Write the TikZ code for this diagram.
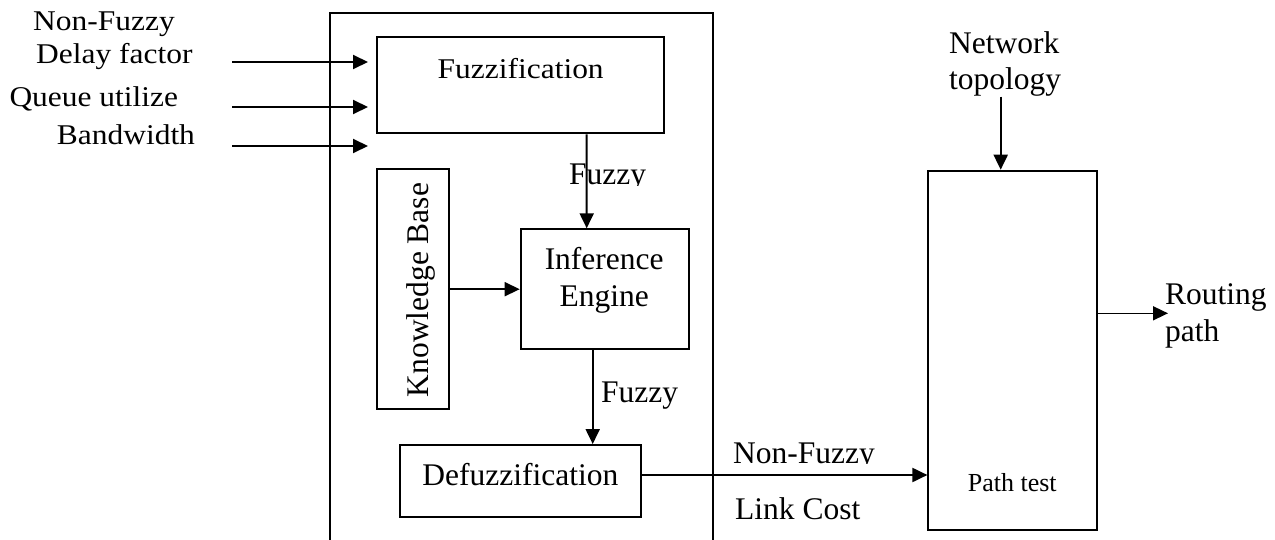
\documentclass[tikz,border=0pt]{standalone}
\usepackage{fontspec}
\setmainfont{Liberation Serif}
\newfontfamily\widefont{Liberation Serif}[FakeStretch=1.1]
\usetikzlibrary{arrows.meta}
\tikzset{
  box/.style={draw, line width=2pt, inner sep=0pt},
  arr/.style={line width=2pt, -{Triangle[length=15pt,width=14pt]}},
  thinarr/.style={line width=1.6pt, -{Triangle[length=15pt,width=14pt]}},
  lbl/.style={inner sep=0pt, anchor=base west, font=\fontsize{31.5}{36}\selectfont},
  clbl/.style={inner sep=0pt, anchor=base, font=\fontsize{31.5}{36}\selectfont},
  wlbl/.style={inner sep=0pt, anchor=base west, font=\widefont\fontsize{28.6}{32}\selectfont}
}
\begin{document}
\begin{tikzpicture}[x=1pt,y=-1pt]
\useasboundingbox (0,0) rectangle (1275,540);
\begin{scope}
\clip (0,0) rectangle (1275,540);
% outer box (bottom edge outside the picture)
\draw[line width=2pt] (329.5,560) -- (329.5,13.3) -- (712.5,13.3) -- (712.5,560);
\end{scope}

% boxes
\node[box, minimum width=287.6pt, minimum height=96pt] (fuzz) at (520.5,85.3) {};
\node[box, minimum width=72pt, minimum height=239.7pt] (kb) at (412.7,289.2) {};
\node[box, minimum width=168.3pt, minimum height=120pt] (inf) at (604.85,289.3) {};
\node[box, minimum width=241pt, minimum height=72.3pt] (defuzz) at (520.5,481.2) {};
\node[box, line width=1.8pt, minimum width=168.4pt, minimum height=359.3pt] (path) at (1012.5,350.3) {};

% box texts
\node[wlbl] (tfuzz) at (437.5,78.3) {Fuzzification};
\node[clbl, rotate=90] (tkb) at (428.3,290) {Knowledge Base};
\node[clbl] (tinf1) at (604.2,269.3) {Inference};
\node[clbl] (tinf2) at (604.2,306.7) {Engine};
\node[clbl] (tdef) at (520.3,485) {Defuzzification};
\node[inner sep=0pt, anchor=base, font=\fontsize{26}{30}\selectfont] (tpath) at (1012.2,491) {Path test};

% input labels
\node[wlbl] (l1) at (33,30.7) {Non-Fuzzy};
\node[wlbl] (l2) at (36,64) {Delay factor};
\node[wlbl] (l3) at (9.3,107) {Queue utilize};
\node[wlbl] (l4) at (56.7,145) {Bandwidth};

% input arrows
\coordinate (i1s) at (232,62);   \coordinate (i1e) at (368,62);
\coordinate (i2s) at (232,107);  \coordinate (i2e) at (368,107);
\coordinate (i3s) at (232,146);  \coordinate (i3e) at (368,146);
\draw[arr] (i1s) -- (i1e);
\draw[arr] (i2s) -- (i2e);
\draw[arr] (i3s) -- (i3e);

% internal arrows
\draw[arr] ([xshift=66.2pt]fuzz.south) -- ([xshift=-18.15pt]inf.north);
\draw[thinarr] (kb.east) -- (kb.east -| inf.west);
\draw[arr] ([xshift=-12.15pt]inf.south) -- ([xshift=-12.15pt]inf.south |- defuzz.north);
\draw[arr] ([yshift=6.2pt]defuzz.east) -- ([yshift=6.2pt]defuzz.east -| path.west);

% clipped labels
\begin{scope}
\clip (560,150) rectangle (660,185.5);
\node[lbl] (fz1) at (569,185) {Fuzzy};
\end{scope}
\node[lbl] (fz2) at (601,402.7) {Fuzzy};
\begin{scope}
\clip (720,430) rectangle (900,463.8);
\node[lbl] (nf2) at (733,463.3) {Non-Fuzzy};
\end{scope}
\node[lbl] (lc) at (735,519) {Link Cost};

% network topology
\node[lbl] (nt1) at (949,54) {Network};
\node[lbl] (nt2) at (949,90) {topology};
\coordinate (nts) at (1000.7,96.7);
\draw[arr] (nts) -- (nts |- path.north);

% routing path
\coordinate (rp) at (1168,313.3);
\draw[thinarr] (rp -| path.east) -- (rp);
\node[lbl] (r1) at (1165,305) {Routing};
\node[lbl] (r2) at (1165,341.7) {path};
\end{tikzpicture}
\end{document}
